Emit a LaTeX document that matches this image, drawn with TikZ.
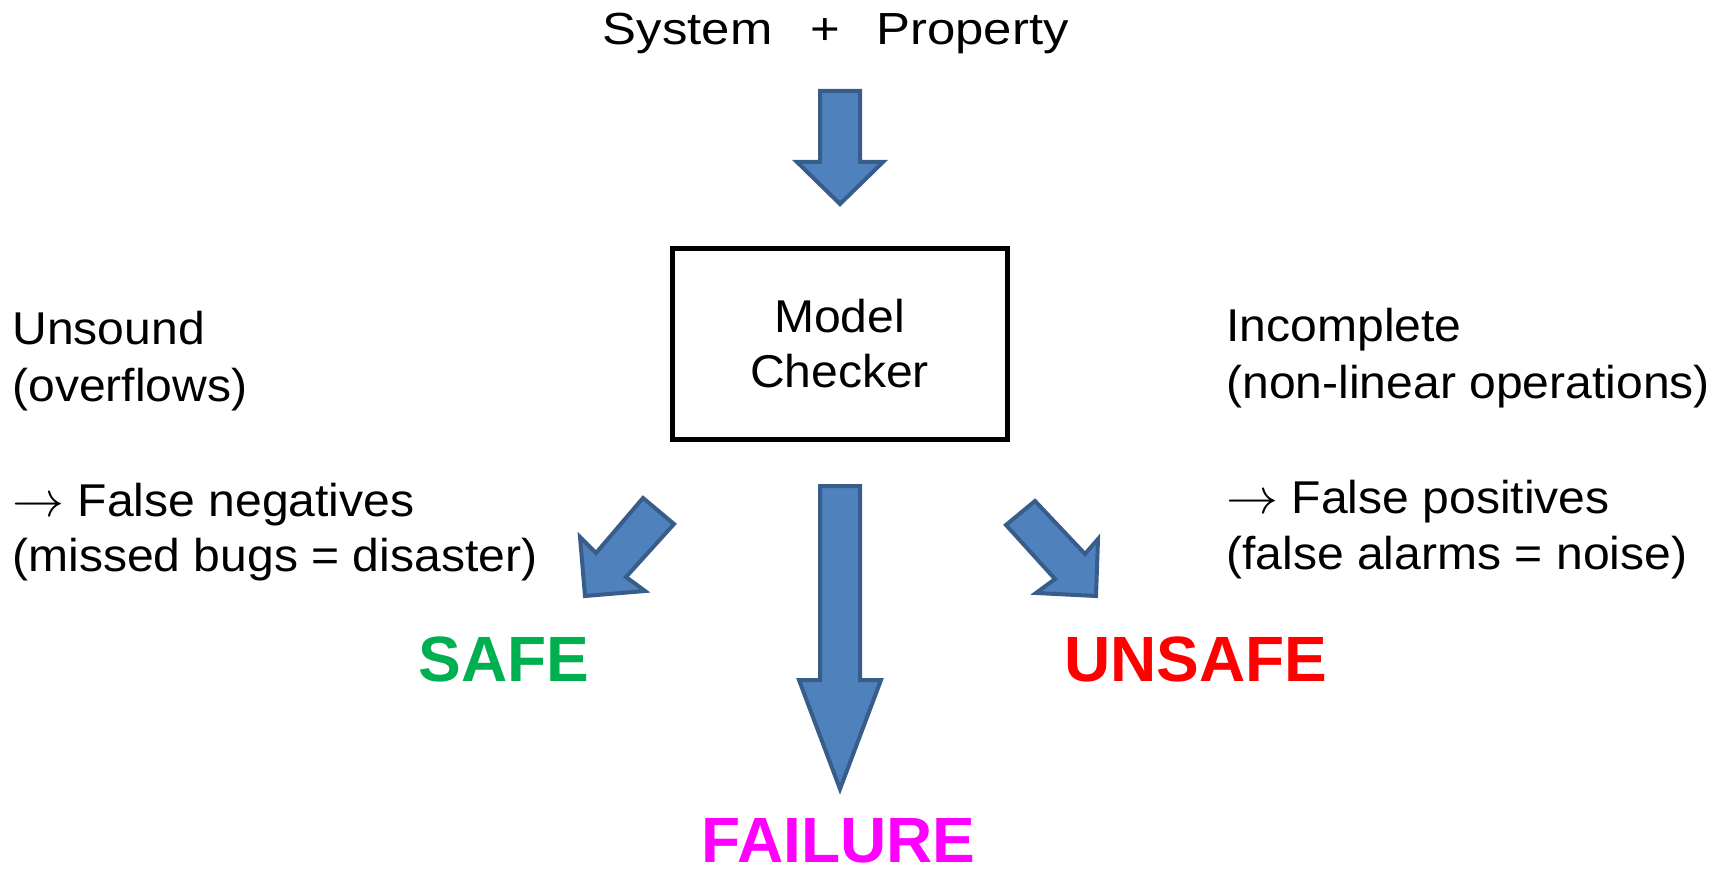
\documentclass[tikz,border=0pt]{standalone}
\usepackage{fontspec}
\usepackage{graphicx}
\setmainfont{Liberation Sans}
\definecolor{arrfill}{HTML}{4F81BD}
\definecolor{arrline}{HTML}{385D8A}
\definecolor{safegreen}{HTML}{00B050}
\definecolor{unsafered}{HTML}{FF0000}
\definecolor{failmag}{HTML}{FF00FF}
\newcommand{\hstr}[1]{\scalebox{1.045}[1]{#1}}
\tikzset{
  blockarrow/.style={fill=arrfill, draw=arrline, line width=2pt, line join=miter, miter limit=10},
  bodytext/.style={anchor=base west, inner sep=0pt, font=\fontsize{23pt}{27.5pt}\selectfont},
  toptext/.style={inner sep=0pt, font=\fontsize{22.5pt}{27pt}\selectfont},
  verdict/.style={anchor=base, inner sep=0pt, font=\fontsize{32pt}{38pt}\selectfont\bfseries},
  mcbox/.style={draw=black, line width=2.5pt, minimum width=167.5pt, minimum height=95pt, inner sep=0pt, align=center, font=\fontsize{23pt}{27.5pt}\selectfont}
}
\begin{document}
\begin{tikzpicture}[x=0.5pt, y=-0.5pt]
\useasboundingbox (0,0) rectangle (1723,871);
% top text
\node[toptext, anchor=base west] (sys) at (602.5,45) {\scalebox{1.13}[1]{System}};
\node[toptext, anchor=base] (plus) at (825,45) {\scalebox{1.13}[1]{+}};
\node[toptext, anchor=base west] (prop) at (876,45) {\scalebox{1.13}[1]{Property}};
% top arrow
\draw[blockarrow] (820,91) -- (860,91) -- (860,162) -- (883,162) -- (840,204) -- (797,162) -- (820,162) -- cycle;
% model checker box
\node[mcbox] (mc) at (839.5,344) {\hstr{Model}\\\hstr{Checker}};
% left texts
\node[bodytext] (uns) at (12,345) {\hstr{Unsound}};
\node[bodytext] (ovf) at (12,401) {\hstr{(overflows)}};
\node[bodytext] (fneg) at (12,516.7) {\hstr{$\rightarrow$ False negatives}};
\node[bodytext] (miss) at (12,571) {\hstr{(missed bugs = disaster)}};
% right texts
\node[bodytext] (inc) at (1226,341.7) {\hstr{Incomplete}};
\node[bodytext] (nonlin) at (1226,398.3) {\hstr{(non-linear operations)}};
\node[bodytext] (fpos) at (1226,513) {\hstr{$\rightarrow$ False positives}};
\node[bodytext] (falarm) at (1226,569) {\hstr{(false alarms = noise)}};
% center arrow
\draw[blockarrow] (820,486) -- (860,486) -- (860,680) -- (881,680) -- (840,789) -- (799,680) -- (820,680) -- cycle;
% left arrow
\draw[blockarrow] (643,498) -- (674,524) -- (626,577) -- (645,591) -- (585,596) -- (580,537) -- (596,553) -- cycle;
% right arrow
\draw[blockarrow] (1035,501) -- (1085,554) -- (1098,539) -- (1096,596) -- (1036,593) -- (1055,579) -- (1006,525) -- cycle;
% verdicts
\node[verdict, text=safegreen] (safe) at (504,681.7) {SAFE};
\node[verdict, text=unsafered] (unsafe) at (1196,681.7) {UNSAFE};
\node[verdict, text=failmag] (fail) at (838.5,862.5) {FAILURE};
\end{tikzpicture}
\end{document}
